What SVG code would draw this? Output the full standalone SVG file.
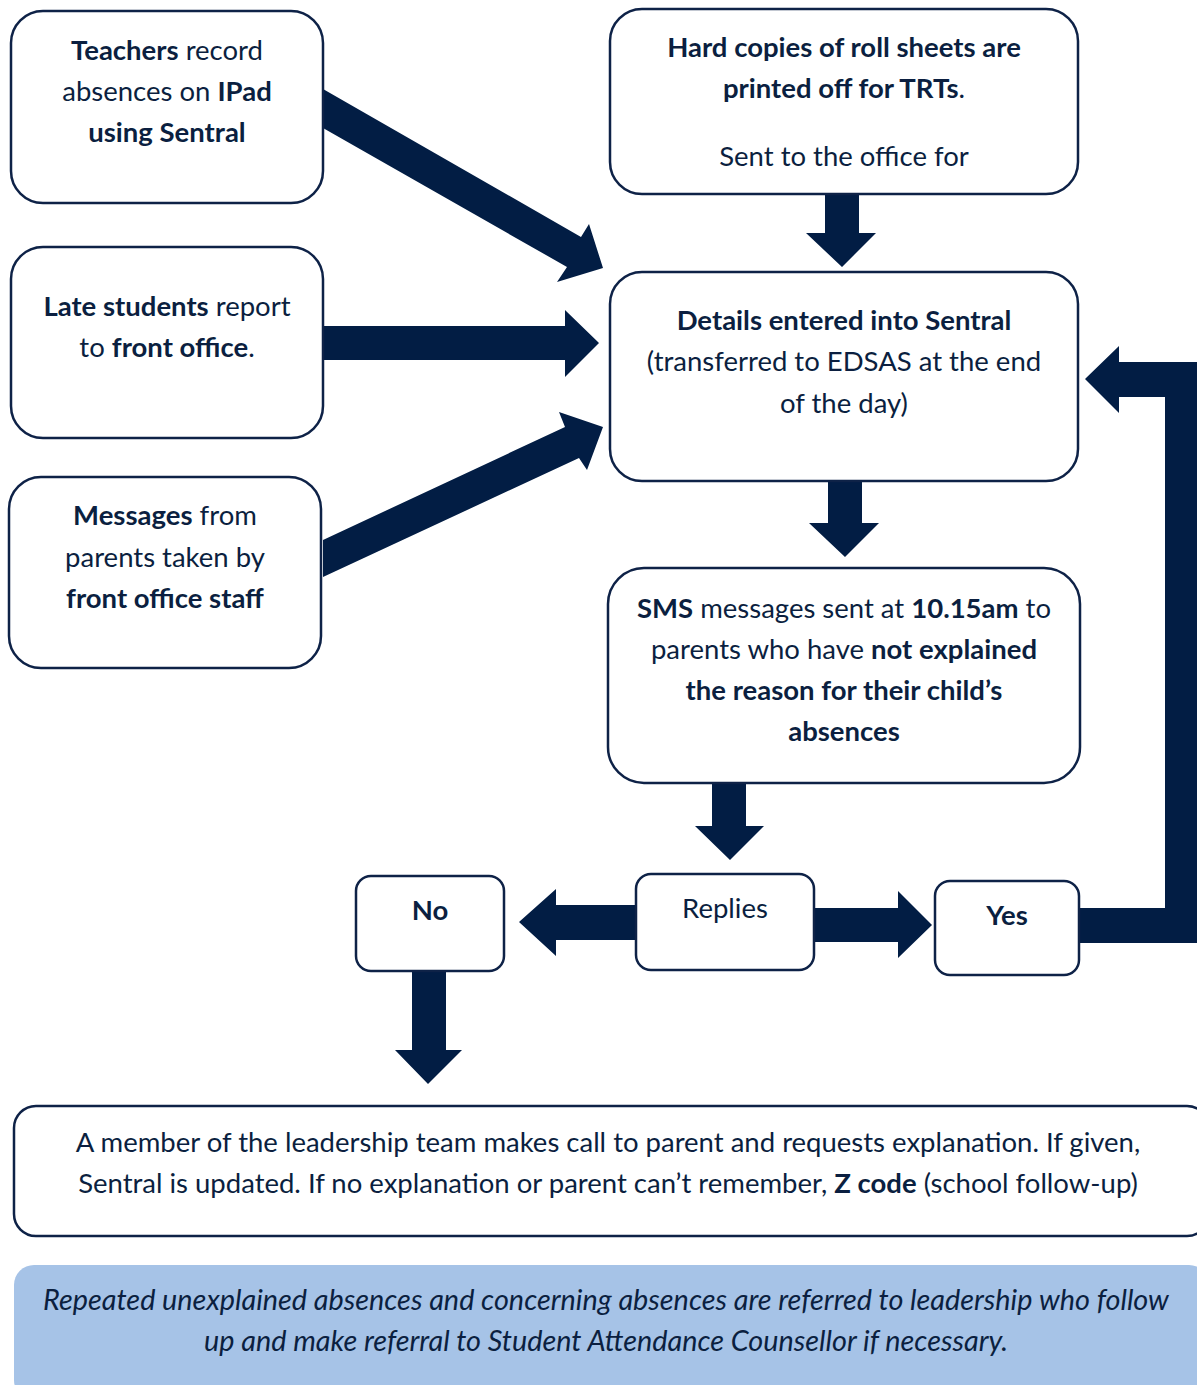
<svg xmlns="http://www.w3.org/2000/svg" width="1197" height="1385" viewBox="0 0 1197 1385">
<style>
.box{fill:#fff;stroke:#0E2247;stroke-width:2.5}
.t{font-family:Lato,"Open Sans","Liberation Sans",sans-serif;font-size:27.5px;fill:#0B1F40;text-anchor:middle}
.b{font-weight:bold}
.i{font-style:italic;font-size:28.8px}
.arr{fill:#021D44}
</style>
<rect width="1197" height="1385" fill="#fff"/>
<g id="connectors">
<polygon class="arr" points="323,89 581,237 589,224 603,268 557,282 567,267 323,128"/>
<polygon class="arr" points="323,326 565,326 565,310 599,343 565,377 565,360 323,360"/>
<polygon class="arr" points="323,540 565,427 559,412 603,427 587,470 579,458 323,577"/>
<polygon class="arr" points="825,194 859,194 859,233 876,233 842,267 806,233 825,233"/>
<polygon class="arr" points="828,481 862,481 862,523 879,523 845,557 809,523 828,523"/>
<polygon class="arr" points="712,783 746,783 746,826 764,826 730,860 695,826 712,826"/>
<polygon class="arr" points="636,905 556,905 556,889 519,922 556,956 556,940 636,940"/>
<polygon class="arr" points="814,908 898,908 898,891 932,925 898,958 898,942 814,942"/>
<polygon class="arr" points="412,971 446,971 446,1050 462,1050 428,1084 395,1050 412,1050"/>
<polygon class="arr" points="1079,908 1165,908 1165,397 1119,397 1119,413 1085,379 1119,346 1119,362 1200,362 1200,943 1079,943"/>
</g>
<g id="teachers">
<rect class="box" x="11" y="11" width="312" height="192" rx="32"/>
<text class="t" x="167" y="60"><tspan class="b">Teachers</tspan> record</text>
<text class="t" x="167" y="101">absences on <tspan class="b">IPad</tspan></text>
<text class="t" x="167" y="142"><tspan class="b">using Sentral</tspan></text>
</g>
<g id="hardcopies">
<rect class="box" x="610" y="9" width="468" height="185" rx="32"/>
<text class="t b" x="844" y="57">Hard copies of roll sheets are</text>
<text class="t" x="844" y="98"><tspan class="b">printed off for TRTs</tspan>.</text>
<text class="t" x="844" y="166">Sent to the office for</text>
</g>
<g id="late">
<rect class="box" x="11" y="247" width="312" height="191" rx="32"/>
<text class="t" x="167" y="316"><tspan class="b">Late students</tspan> report</text>
<text class="t" x="167" y="357">to <tspan class="b">front office</tspan>.</text>
</g>
<g id="messages">
<rect class="box" x="9" y="477" width="312" height="191" rx="32"/>
<text class="t" x="165" y="525"><tspan class="b">Messages</tspan> from</text>
<text class="t" x="165" y="567">parents taken by</text>
<text class="t b" x="165" y="608">front office staff</text>
</g>
<g id="details">
<rect class="box" x="610" y="272" width="468" height="209" rx="32"/>
<text class="t b" x="844" y="330">Details entered into Sentral</text>
<text class="t" x="844" y="371">(transferred to EDSAS at the end</text>
<text class="t" x="844" y="413">of the day)</text>
</g>
<g id="sms">
<rect class="box" x="608" y="568" width="472" height="215" rx="36"/>
<text class="t" x="844" y="618"><tspan class="b">SMS</tspan> messages sent at <tspan class="b">10.15am</tspan> to</text>
<text class="t" x="844" y="659">parents who have <tspan class="b">not explained</tspan></text>
<text class="t b" x="844" y="700">the reason for their child’s</text>
<text class="t b" x="844" y="741">absences</text>
</g>
<g id="no">
<rect class="box" x="356" y="876" width="148" height="95" rx="15"/>
<text class="t b" x="430" y="920">No</text>
</g>
<g id="replies">
<rect class="box" x="636" y="874" width="178" height="96" rx="15"/>
<text class="t" x="725" y="918">Replies</text>
</g>
<g id="yes">
<rect class="box" x="935" y="881" width="144" height="94" rx="15"/>
<text class="t b" x="1007" y="925">Yes</text>
</g>
<g id="leadership">
<rect class="box" x="14" y="1106" width="1195" height="130" rx="22"/>
<text class="t" x="608" y="1152">A member of the leadership team makes call to parent and requests explanation. If given,</text>
<text class="t" x="608" y="1193">Sentral is updated. If no explanation or parent can’t remember, <tspan class="b">Z code</tspan> (school follow-up)</text>
</g>
<g id="note">
<rect x="14" y="1265" width="1195" height="135" rx="20" fill="#A6C3E7"/>
<text class="t i" x="606" y="1310">Repeated unexplained absences and concerning absences are referred to leadership who follow</text>
<text class="t i" x="606" y="1351">up and make referral to Student Attendance Counsellor if necessary.</text>
</g>
</svg>
